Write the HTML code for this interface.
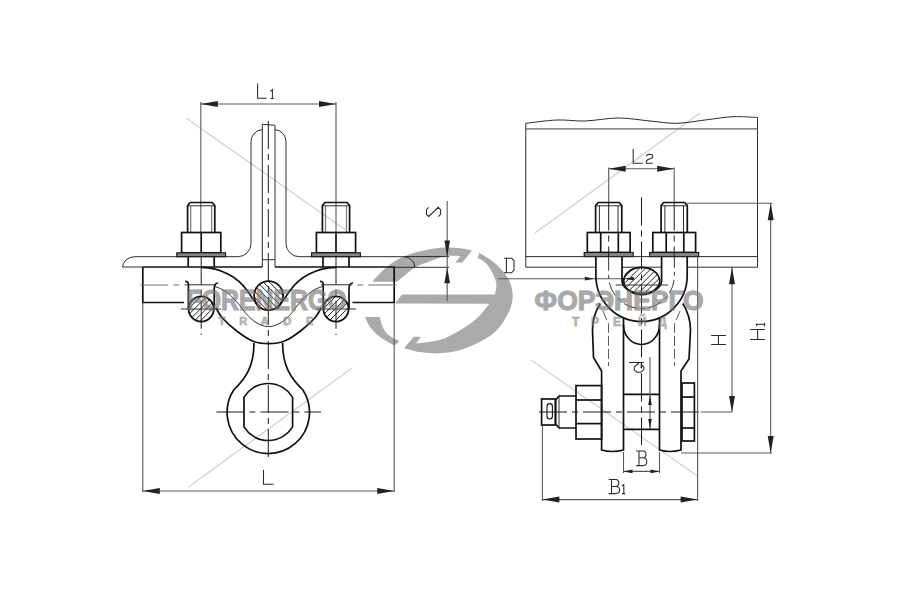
<!DOCTYPE html>
<html><head><meta charset="utf-8"><style>
html,body{margin:0;padding:0;background:#fff;width:900px;height:600px;overflow:hidden}
svg{display:block}
.k,.k0{fill:none;stroke:#111;stroke-width:1.7}
.k0{stroke:none}
.t{fill:none;stroke:#222;stroke-width:0.95}
.d{fill:none;stroke:#5a5a5a;stroke-width:1.1}
.ti{fill:none;stroke:#777;stroke-width:1.2}
.g{fill:none;stroke:#2a2a2a;stroke-width:1.05}
.c{fill:none;stroke:#1a1a1a;stroke-width:1;stroke-dasharray:28 5 6 5}
.c2{fill:none;stroke:#222;stroke-width:0.9;stroke-dasharray:14 4 4 4}
.cg{fill:none;stroke:#707070;stroke-width:1.05;stroke-dasharray:28 5 6 5}
.h{fill:none;stroke:#444;stroke-width:1;stroke-dasharray:7 4}
.h2{fill:none;stroke:#333;stroke-width:0.8;stroke-dasharray:10 3}
.wm{font-family:"Liberation Sans",sans-serif;font-weight:bold;fill:#a9a9a9;stroke:#a9a9a9;stroke-width:1}
.ws{font-family:"Liberation Sans",sans-serif;font-weight:bold;fill:#b2b2b2;stroke:#b2b2b2;stroke-width:0.5}
</style></head><body>
<svg width="900" height="600" viewBox="0 0 900 600">
<rect width="900" height="600" fill="#fff"/>
<g fill="#aaaaaa"><path d="M372.1,281.8C374.6,279.3 381.7,271.0 387.2,266.7C392.7,262.4 398.3,258.8 405.0,256.0C411.7,253.2 420.5,251.2 427.2,249.8C433.9,248.4 439.5,247.8 445.0,247.6C450.5,247.3 455.5,247.8 460.0,248.3C464.5,248.8 470.0,250.1 472.0,250.5L462.4,262.6L455.4,262.6L460.4,256.0C457.8,256.1 450.5,255.4 445.0,256.4C439.5,257.4 432.2,260.3 427.2,262.2C422.2,264.1 419.8,264.3 414.8,267.6C409.8,270.9 400.0,279.4 397.0,281.8Z"/><path d="M479.4,252.7C482.0,254.5 490.2,259.1 495.0,263.3C499.8,267.5 505.0,273.1 507.9,278.0C510.8,282.9 512.0,287.8 512.5,292.7C513.0,297.6 512.6,301.9 510.6,307.4C508.6,312.9 504.7,320.5 500.6,325.7C496.5,330.9 492.3,334.6 485.9,338.6C479.5,342.6 469.6,347.2 462.0,349.6C454.4,352.1 447.0,352.9 440.0,353.3C433.0,353.7 426.0,352.9 420.0,352.0C414.0,351.1 406.7,348.8 404.0,348.2L413.8,336.7L420.9,336.7L416.0,343.6C420.0,343.0 432.9,341.9 440.0,339.8C447.1,337.7 452.2,334.8 458.3,331.2C464.4,327.6 471.5,323.0 476.7,318.4C481.9,313.8 487.4,306.1 489.5,303.7L395,303.6L402,294.5L495.0,294.5C495.2,292.4 497.2,286.6 496.0,281.7C494.8,276.8 490.8,269.2 487.7,265.2C484.6,261.2 479.3,259.0 477.6,257.8Z"/><path d="M379.7,316.9C380.3,318.7 381.7,324.8 383.1,327.8C384.6,330.8 385.6,332.7 388.4,334.9C391.1,337.1 397.7,340.1 399.6,341.1L394.7,345.6C392.2,344.1 383.6,339.7 379.6,336.7C375.6,333.7 373.1,331.1 370.7,327.8C368.2,324.5 365.9,318.7 364.9,316.9Z"/></g><text class="wm" x="186.5" y="309.5" font-size="28.8" textLength="160" lengthAdjust="spacingAndGlyphs">FORENERGO</text><text class="ws" x="218.6" y="324.8" font-size="11">T</text><text class="ws" x="239.3" y="324.8" font-size="11">R</text><text class="ws" x="260.7" y="324.8" font-size="11">A</text><text class="ws" x="283.3" y="324.8" font-size="11">D</text><text class="ws" x="306" y="324.8" font-size="11">E</text><text class="wm" x="534.6" y="310" font-size="28" textLength="169" lengthAdjust="spacingAndGlyphs">ФОРЭНЕРГО</text><text class="ws" x="572" y="325.5" font-size="12">Т</text><text class="ws" x="591" y="325.5" font-size="12">Р</text><text class="ws" x="613" y="325.5" font-size="12">Е</text><text class="ws" x="638" y="325.5" font-size="12">Й</text><text class="ws" x="658" y="325.5" font-size="12">Д</text>
<line x1="186.3" y1="118.3" x2="345.3" y2="229.7" stroke="#d2d2d2" stroke-width="1.4"/>
<line x1="188.5" y1="487" x2="351.7" y2="368.3" stroke="#d2d2d2" stroke-width="1.4"/>
<line x1="535" y1="233" x2="700" y2="113" stroke="#d2d2d2" stroke-width="1.4"/>
<line x1="531" y1="360" x2="697.5" y2="476" stroke="#d2d2d2" stroke-width="1.4"/>
<line class="d" x1="200.8" y1="102" x2="200.8" y2="232.5"/>
<line class="d" x1="336" y1="102" x2="336" y2="232.5"/>
<line class="d" x1="200.8" y1="104" x2="336" y2="104"/>
<polygon fill="#222" points="200.8,104.0 217.8,101.0 217.8,107.0"/>
<polygon fill="#222" points="336.0,104.0 319.0,101.0 319.0,107.0"/>
<path class="g" d="M257.6,83.4L257.6,98.2L266.6,98.2" />
<path class="g" d="M270.4,91.4L272.4,89.6L272.4,98.4M270.6,98.4L273.8,98.4" />
<path class="t" d="M251,141.7A12,12 0 0 1 262.3,129.6" />
<path class="t" d="M275,129.6A12,12 0 0 1 286,141.7" />
<path class="t" d="M251,141.7L251,243.5A13.2,13.2 0 0 1 237.8,256.7" />
<path class="t" d="M286,141.7L286,243.5A13.2,13.2 0 0 0 299.2,256.7" />
<path class="t" d="M262.3,267L262.3,124.3L275,125.3L275,267" />
<line class="t" x1="262.3" y1="259.7" x2="275" y2="259.7"/>
<path class="t" d="M122.6,267.2A12.4,10.5 0 0 1 135,256.7L237.8,256.7" />
<path class="t" d="M299.2,256.7L404,256.7A11,10.6 0 0 1 414.8,267.3" />
<line class="t" x1="122.5" y1="267" x2="142.8" y2="267"/>
<line class="t" x1="394.2" y1="267.3" x2="449" y2="267.3"/>
<line class="t" x1="404.3" y1="256.6" x2="449" y2="256.6"/>
<line class="k" x1="142.8" y1="267" x2="262.3" y2="267"/>
<line class="k" x1="275" y1="267" x2="394.2" y2="267"/>
<path class="k" d="M184,302.5L142.8,302.5L142.8,267" />
<path class="k" d="M352.5,302.5L394.2,302.5L394.2,267" />
<line class="d" x1="142.8" y1="302.5" x2="142.8" y2="492"/>
<line class="d" x1="394.2" y1="302.5" x2="394.2" y2="492"/>
<line class="d" x1="142.8" y1="491" x2="394.2" y2="491"/>
<polygon fill="#222" points="142.8,491.0 159.8,488.0 159.8,494.0"/>
<polygon fill="#222" points="394.2,491.0 377.2,488.0 377.2,494.0"/>
<path class="g" d="M263.5,470L263.5,484.3L273.5,484.3" />
<line class="cg" x1="140.3" y1="284.9" x2="186" y2="284.9"/>
<line class="cg" x1="396.3" y1="284.9" x2="350.6" y2="284.9"/>
<line class="t" x1="186" y1="284.8" x2="216" y2="284.8"/>
<line class="t" x1="321" y1="284.8" x2="350" y2="284.8"/>
<rect class="k0" x="187.6" y="202.5" width="27.2" height="30.0"/>
<path class="k" d="M187.6,232.5L187.6,205.5L190.2,202.5L212.2,202.5L214.79999999999998,205.5L214.79999999999998,232.5" />
<line class="t" x1="187.6" y1="205.8" x2="214.79999999999998" y2="205.8"/>
<line class="ti" x1="190.7" y1="205.8" x2="190.7" y2="232.5"/>
<line class="ti" x1="211.7" y1="205.8" x2="211.7" y2="232.5"/>
<rect class="k" x="181.6" y="232.5" width="39.2" height="20.3"/>
<line class="k" x1="201.2" y1="232.5" x2="201.2" y2="252.8"/>
<rect x="176.79999999999998" y="252.8" width="48.8" height="3.9" fill="#858585" stroke="#111" stroke-width="1.1"/>
<line class="k" x1="188.2" y1="256.7" x2="188.2" y2="267"/>
<line class="k" x1="214.2" y1="256.7" x2="214.2" y2="267"/>
<line class="c" x1="201.2" y1="256.7" x2="201.2" y2="335"/>
<rect class="k0" x="322.4" y="202.5" width="27.2" height="30.0"/>
<path class="k" d="M322.4,232.5L322.4,205.5L325,202.5L347,202.5L349.6,205.5L349.6,232.5" />
<line class="t" x1="322.4" y1="205.8" x2="349.6" y2="205.8"/>
<line class="ti" x1="325.5" y1="205.8" x2="325.5" y2="232.5"/>
<line class="ti" x1="346.5" y1="205.8" x2="346.5" y2="232.5"/>
<rect class="k" x="316.4" y="232.5" width="39.2" height="20.3"/>
<line class="k" x1="336" y1="232.5" x2="336" y2="252.8"/>
<rect x="311.6" y="252.8" width="48.8" height="3.9" fill="#858585" stroke="#111" stroke-width="1.1"/>
<line class="k" x1="323" y1="256.7" x2="323" y2="267"/>
<line class="k" x1="349" y1="256.7" x2="349" y2="267"/>
<line class="c" x1="336" y1="256.7" x2="336" y2="335"/>
<path class="k" d="M201,267.4C222,267.6 238,278 246.7,290C251,296 256,303 260,309" />
<path class="k" d="M336.2,267.4C315.2,267.6 299.2,278 290.5,290C286.2,296 281.2,303 277.2,309" />
<path class="k" d="M215.9,307.8C217.0,309.5 218.9,314.1 222.4,318.0C225.9,321.9 231.6,327.1 236.7,331.0C241.8,334.9 247.7,339.1 253.0,341.2C258.3,343.3 263.4,343.6 268.6,343.6C273.8,343.6 278.9,343.3 284.2,341.2C289.5,339.1 295.4,334.9 300.5,331.0C305.6,327.1 311.3,321.9 314.8,318.0C318.3,314.1 320.2,309.5 321.3,307.8" />
<path class="t" d="M214.0,286.3C215.6,286.9 220.2,288.1 223.3,290.0C226.4,291.9 229.9,294.9 232.7,297.5C235.5,300.1 237.8,303.1 240.1,305.9C242.4,308.7 244.0,311.5 246.7,314.3C249.3,317.1 252.3,320.4 256.0,322.5C259.6,324.6 264.4,326.7 268.6,326.7C272.8,326.7 277.6,324.6 281.2,322.5C284.9,320.4 287.9,317.1 290.5,314.3C293.2,311.5 294.8,308.7 297.1,305.9C299.4,303.1 301.7,300.1 304.5,297.5C307.3,294.9 310.8,291.9 313.9,290.0C317.0,288.1 321.7,286.9 323.2,286.3" />
<path class="k" d="M185.2,281.5Q189.2,281 188.39999999999998,287L188.39999999999998,309" />
<path class="k" d="M218.2,283Q214.2,283 214.2,289L214.2,309" />
<path class="k" d="M320,281.5Q324,281 323.2,287L323.2,309" />
<path class="k" d="M353,283Q349,283 349,289L349,309" />
<clipPath id="h1"><ellipse cx="201.2" cy="309" rx="12.6" ry="12.6"/></clipPath>
<path clip-path="url(#h1)" stroke="#222" stroke-width="1" fill="none" d="M163.4,327.9L201.2,290.1M169.4,327.9L207.2,290.1M175.4,327.9L213.2,290.1M181.4,327.9L219.2,290.1M187.4,327.9L225.2,290.1M193.4,327.9L231.2,290.1M199.4,327.9L237.2,290.1"/>
<ellipse class="k" cx="201.2" cy="309" rx="12.6" ry="12.6" style="stroke-width:1.8"/>
<clipPath id="h2"><ellipse cx="336" cy="309" rx="12.6" ry="12.6"/></clipPath>
<path clip-path="url(#h2)" stroke="#222" stroke-width="1" fill="none" d="M298.2,327.9L336.0,290.1M304.2,327.9L342.0,290.1M310.2,327.9L348.0,290.1M316.2,327.9L354.0,290.1M322.2,327.9L360.0,290.1M328.2,327.9L366.0,290.1M334.2,327.9L372.0,290.1"/>
<ellipse class="k" cx="336" cy="309" rx="12.6" ry="12.6" style="stroke-width:1.8"/>
<clipPath id="h3"><ellipse cx="268.6" cy="295.6" rx="14.5" ry="14.5"/></clipPath>
<path clip-path="url(#h3)" stroke="#222" stroke-width="1" fill="none" d="M225.1,273.9L268.6,317.4M231.1,273.9L274.6,317.4M237.1,273.9L280.6,317.4M243.1,273.9L286.6,317.4M249.1,273.9L292.6,317.4M255.1,273.9L298.6,317.4M261.1,273.9L304.6,317.4M267.1,273.9L310.6,317.4"/>
<ellipse class="k" cx="268.6" cy="295.6" rx="14.5" ry="14.5" style="stroke-width:1.8"/>
<line class="t" x1="181" y1="309" x2="221" y2="309"/>
<line class="t" x1="316" y1="309" x2="356" y2="309"/>
<line class="c" x1="268.3" y1="121" x2="268.3" y2="462"/>
<path class="k" d="M254,343C254,366 246,378 233.7,390A41.2,41.2 0 1 0 302.9,390C290.6,378 282.6,366 282.6,343" />
<path class="k" d="M244,397.1L244,426.9A28.5,28.5 0 0 0 292.6,426.9L292.6,397.1A28.5,28.5 0 0 0 244,397.1Z" />
<line class="c" x1="216.4" y1="412" x2="321" y2="412"/>
<line class="d" x1="447.2" y1="201" x2="447.2" y2="301"/>
<polygon fill="#222" points="447.2,256.6 444.4,240.6 450.0,240.6"/>
<polygon fill="#222" points="447.2,267.3 444.4,283.3 450.0,283.3"/>
<path class="g" d="M428.75,207.3L426.5,209.4L426.5,214.4L428.75,216.5L438.3,207.3L440.6,209.6L440.6,214.4L438.3,216.7" />
<path class="g" d="M504,258.2L511.6,258.2L514,260.8L514,270.1L511.6,272.8L504,272.8M506.4,258.2L506.4,272.8" />
<line class="d" x1="498" y1="278.7" x2="633.5" y2="278.7"/>
<polygon fill="#222" points="594.3,278.7 584.8,276.8 584.8,280.6"/>
<polygon fill="#222" points="625.3,278.7 633.8,276.8 633.8,280.6"/>
<path class="t" d="M525.8,267.2L525.8,123.3C530.9,122.8 546.8,120.4 556.7,120.0C566.6,119.6 574.8,121.3 585.0,121.0C595.2,120.7 607.2,118.0 618.0,118.0C628.8,118.0 640.2,120.1 650.0,121.0C659.8,121.9 667.5,123.5 676.7,123.3C685.9,123.1 695.6,121.1 705.0,120.0C714.4,118.9 724.2,117.1 733.0,116.7C741.8,116.3 753.4,117.4 757.5,117.5L757.5,267.2" />
<line x1="525.8" y1="128.8" x2="757.5" y2="128.8" stroke="#666" stroke-width="1.3"/>
<line class="t" x1="525.8" y1="256.6" x2="584.2" y2="256.6"/>
<line class="t" x1="633.3" y1="256.6" x2="649.2" y2="256.6"/>
<line class="t" x1="698.3" y1="256.6" x2="757.5" y2="256.6"/>
<line class="t" x1="525.8" y1="267.2" x2="595.9" y2="267.2"/>
<line class="t" x1="622" y1="267.2" x2="661.6" y2="267.2"/>
<line class="t" x1="687.2" y1="267.2" x2="757.5" y2="267.2"/>
<line class="d" x1="608.7" y1="167.5" x2="608.7" y2="202.5"/>
<line class="d" x1="674.2" y1="167.5" x2="674.2" y2="202.5"/>
<line class="d" x1="608.7" y1="168.7" x2="674.2" y2="168.7"/>
<polygon fill="#222" points="608.7,168.7 625.7,165.7 625.7,171.7"/>
<polygon fill="#222" points="674.2,168.7 657.2,165.7 657.2,171.7"/>
<path class="g" d="M633.2,149L633.2,163.3L642.8,163.3" />
<path class="g" d="M646.3,156.25Q646.8,154.2 649.7,154.2Q652.8,154.3 652.8,156.5Q652.5,158.5 649.5,159Q646.3,159.8 646.3,162L646.3,163.3L652.8,163.3" />
<path class="k" d="M595.6,232.5L595.6,205.5L598.2,202.5L619.2,202.5L621.8000000000001,205.5L621.8000000000001,232.5" />
<line class="t" x1="595.6" y1="205.8" x2="621.8000000000001" y2="205.8"/>
<line class="t" x1="599.4000000000001" y1="205.8" x2="599.4000000000001" y2="232.5"/>
<line class="t" x1="618.0" y1="205.8" x2="618.0" y2="232.5"/>
<rect class="k" x="587.3000000000001" y="232.5" width="42.8" height="20.0"/>
<line class="k" x1="600.7" y1="232.5" x2="600.7" y2="252.5"/>
<line class="k" x1="618.3000000000001" y1="232.5" x2="618.3000000000001" y2="252.5"/>
<rect x="584.2" y="252.5" width="49" height="4.2" fill="#858585" stroke="#111" stroke-width="1.1"/>
<line class="c" x1="608.7" y1="202.5" x2="608.7" y2="256.7"/>
<path class="k" d="M661.1,232.5L661.1,205.5L663.7,202.5L684.7,202.5L687.3000000000001,205.5L687.3000000000001,232.5" />
<line class="t" x1="661.1" y1="205.8" x2="687.3000000000001" y2="205.8"/>
<line class="t" x1="664.9000000000001" y1="205.8" x2="664.9000000000001" y2="232.5"/>
<line class="t" x1="683.5" y1="205.8" x2="683.5" y2="232.5"/>
<rect class="k" x="652.8000000000001" y="232.5" width="42.8" height="20.0"/>
<line class="k" x1="666.2" y1="232.5" x2="666.2" y2="252.5"/>
<line class="k" x1="683.8000000000001" y1="232.5" x2="683.8000000000001" y2="252.5"/>
<rect x="649.7" y="252.5" width="49" height="4.2" fill="#858585" stroke="#111" stroke-width="1.1"/>
<line class="c" x1="674.2" y1="202.5" x2="674.2" y2="256.7"/>
<path class="k" d="M595.9,256.7L595.9,275.8A45.65,45.65 0 0 0 687.2,275.8L687.2,256.7" />
<path class="k" d="M622,256.7L622,280.5A19.8,13 0 0 0 661.6,280.5L661.6,256.7" />
<path class="c2" d="M608.6,256.7L608.6,275.6A32.9,33 0 0 0 674.4,275.6L674.4,256.7" />
<clipPath id="h4"><ellipse cx="641.7" cy="281" rx="18" ry="13.7"/></clipPath>
<path clip-path="url(#h4)" stroke="#222" stroke-width="1" fill="none" d="M587.7,308.0L641.7,254.0M593.7,308.0L647.7,254.0M599.7,308.0L653.7,254.0M605.7,308.0L659.7,254.0M611.7,308.0L665.7,254.0M617.7,308.0L671.7,254.0M623.7,308.0L677.7,254.0M629.7,308.0L683.7,254.0M635.7,308.0L689.7,254.0M641.7,308.0L695.7,254.0"/>
<ellipse class="k" cx="641.7" cy="281" rx="18" ry="13.7" style="stroke-width:1.7"/>
<line class="t" x1="615.6" y1="285" x2="668" y2="285"/>
<line class="c" x1="641.5" y1="197.5" x2="641.5" y2="445"/>
<path class="k" d="M600.3,303.5A49,49 0 0 0 592.5,330L593.5,357.5L601.6,371L601.6,450Q612,453 623.5,450L623.5,318" />
<path class="k" d="M682.7,303.5A49,49 0 0 1 690.5,330L689,359L681,371L681,450Q670,453 659.5,450L659.5,318" />
<path class="k" d="M623.5,325A18,19.5 0 0 0 659.5,325" />
<path class="h2" d="M603,311L608.5,324L608.5,366" />
<path class="h2" d="M680,311L674.5,324L674.5,366" />
<line class="k" x1="623.5" y1="394.4" x2="659.5" y2="394.4"/>
<line class="k" x1="623.5" y1="429.4" x2="659.5" y2="429.4"/>
<line class="d" x1="650" y1="357" x2="650" y2="429"/>
<polygon fill="#222" points="650.0,395.0 648.2,405.0 651.8,405.0"/>
<polygon fill="#222" points="650.0,429.0 648.2,419.0 651.8,419.0"/>
<path class="g" d="M629,362.4L643.9,362.4M639.3,362.5L634.3,367L634.3,369.8L636.9,372.2L641,372.2L643.9,369.3L643.9,367L641.3,364.5L641,368" />
<rect class="k" x="576" y="385.6" width="25.6" height="53.4"/>
<line class="k" x1="576" y1="400" x2="601.6" y2="400"/>
<line class="k" x1="576" y1="423.6" x2="601.6" y2="423.6"/>
<path class="k" d="M576,396L559,396L555.5,400L555.5,424L559,428L576,428" />
<line class="t" x1="559" y1="396" x2="559" y2="428"/>
<rect class="k" x="541.6" y="399" width="13.9" height="26"/>
<rect class="k" x="547" y="403.6" width="5.4" height="15.4" rx="2.7" style="stroke-width:1.1"/>
<rect class="k" x="682" y="383" width="12.4" height="58"/>
<line class="k" x1="682" y1="397" x2="694.4" y2="397"/>
<line class="k" x1="682" y1="428" x2="694.4" y2="428"/>
<line class="c" x1="539" y1="412" x2="700" y2="412"/>
<line class="d" x1="700.8" y1="412" x2="732.5" y2="412"/>
<line class="d" x1="623.5" y1="452" x2="623.5" y2="473"/>
<line class="d" x1="659.5" y1="452" x2="659.5" y2="473"/>
<line class="d" x1="623.5" y1="471.4" x2="659.5" y2="471.4"/>
<polygon fill="#222" points="623.5,471.4 632.5,469.6 632.5,473.2"/>
<polygon fill="#222" points="659.5,471.4 650.5,469.6 650.5,473.2"/>
<path class="g" d="M639,451L639,465.6M636.2,451L643,451Q646,451.2 646,454.4Q646,457.6 643,457.8L639,457.8M643,457.8Q646.8,458 646.8,461.7Q646.8,465.4 643,465.6L636.2,465.6" />
<line class="d" x1="542.4" y1="426" x2="542.4" y2="501"/>
<line class="d" x1="697.6" y1="256.7" x2="697.6" y2="501"/>
<line class="d" x1="542.4" y1="499.6" x2="697.6" y2="499.6"/>
<polygon fill="#222" points="542.4,499.6 559.4,496.6 559.4,502.6"/>
<polygon fill="#222" points="697.6,499.6 680.6,496.6 680.6,502.6"/>
<path class="g" d="M611.5,479.4L611.5,493.6M608.7,479.4L615.7,479.4Q618.8,479.6 618.8,482.9Q618.8,486.2 615.7,486.4L611.5,486.4M615.7,486.4Q619.7,486.6 619.7,490Q619.7,493.4 615.7,493.6L608.7,493.6" />
<path class="g" d="M622,486.2L623.8,484.4L623.8,493.6M622,493.6L625.2,493.6" />
<line class="d" x1="732" y1="267.2" x2="732" y2="412"/>
<polygon fill="#222" points="732.0,267.2 729.0,284.2 735.0,284.2"/>
<polygon fill="#222" points="732.0,412.0 729.0,396.0 735.0,396.0"/>
<path class="g" d="M711.1,335.4L725.9,335.4M711.1,344.5L725.9,344.5M718.4,335.4L718.4,344.5" />
<line class="d" x1="686.7" y1="203.2" x2="772.5" y2="203.2"/>
<line class="d" x1="681" y1="453" x2="772" y2="453"/>
<line class="d" x1="770.7" y1="203.2" x2="770.7" y2="453"/>
<polygon fill="#222" points="770.7,203.2 767.7,220.2 773.7,220.2"/>
<polygon fill="#222" points="770.7,453.0 767.7,436.0 773.7,436.0"/>
<path class="g" d="M750.1,329.4L764.9,329.4M750.1,339.4L764.9,339.4M757.6,329.4L757.6,339.4" />
<path class="g" d="M757,326.2L756.3,324.2L764.9,324.2M764.6,322.8L764.6,326.6" />
<g opacity="0.4"><text class="wm" x="186.5" y="309.5" font-size="28.8" textLength="160" lengthAdjust="spacingAndGlyphs">FORENERGO</text><text class="ws" x="218.6" y="324.8" font-size="11">T</text><text class="ws" x="239.3" y="324.8" font-size="11">R</text><text class="ws" x="260.7" y="324.8" font-size="11">A</text><text class="ws" x="283.3" y="324.8" font-size="11">D</text><text class="ws" x="306" y="324.8" font-size="11">E</text><text class="wm" x="534.6" y="310" font-size="28" textLength="169" lengthAdjust="spacingAndGlyphs">ФОРЭНЕРГО</text><text class="ws" x="572" y="325.5" font-size="12">Т</text><text class="ws" x="591" y="325.5" font-size="12">Р</text><text class="ws" x="613" y="325.5" font-size="12">Е</text><text class="ws" x="638" y="325.5" font-size="12">Й</text><text class="ws" x="658" y="325.5" font-size="12">Д</text></g>
</svg>
</body></html>
